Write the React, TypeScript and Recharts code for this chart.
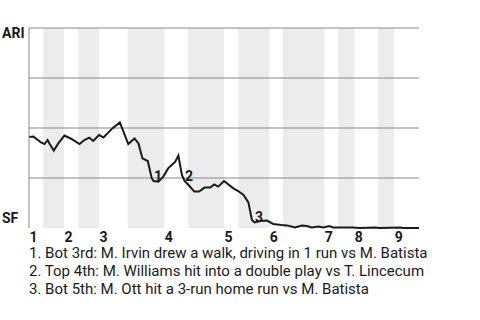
import React from 'react';
import { LineChart, Line, XAxis, YAxis, ReferenceArea, ReferenceLine } from 'recharts';

// play number (x) and ARI win probability in % (y)
const plays = [
  0, 1, 2, 2.7, 3.5, 4.2, 4.6, 5.6, 6.6, 8, 9.6, 11.4, 12.5, 13.6, 14.5, 15.8, 16.8, 18.8, 20.5,
  22.4, 23.8, 24.7, 25.6, 26.8, 27.7, 28.1, 29.2, 30.3, 31.4, 33, 33.7, 34.5, 35.1, 36, 37.3, 38.4,
  39.6, 40.9, 41.8, 42.7, 44, 46.1, 47.2, 48.4, 49.5, 50.3, 50.9, 52.2, 53.7, 55.1, 57, 58.2, 60,
  61.6, 62.7, 63.8, 65.3, 66.4, 67.7, 68.6, 73.1, 74.6, 78.1, 79.2, 83.7, 84.4, 88,
];
const ariWinPct = [
  45.5, 45.7, 44, 42.8, 42, 44, 42.3, 38.7, 42.3, 46.2, 44.5, 42, 44, 45.2, 43.5, 46.5, 45.3, 49.8, 52.8,
  42, 44.8, 42.3, 34.8, 33.5, 24.8, 23.5, 23.2, 25.7, 29.8, 33.2, 36.2, 26.5, 23.5, 21.5, 18.2, 18.2,
  20.2, 20.2, 21.8, 20.7, 23.5, 19.8, 18.5, 16.5, 12.8, 4, 2.8, 3.5, 3.7, 2, 1.5, 1.3, 0.3,
  1.2, 1, 0.3, 0.7, 0.3, 1, 0.3, 0.2, 0, 0.2, 0, 0.2, 0, 0,
];

// half-inning boundaries in plays (top 1st, bot 1st, top 2nd, ...)
const halfInningBounds = [0, 3.2, 7.9, 11.1, 15.8, 22.3, 30.5, 35.9, 44, 47.2, 54.2, 57.3, 66.6, 69.8, 73.4, 78.8, 82.4, 88];
const inningLabels = ['1', '2', '3', '4', '5', '6', '7', '8', '9'];

// key plays: index into the series, and description
const eventIdx = [25, 32, 46];
const eventNotes = [
  '1. Bot 3rd: M. Irvin drew a walk, driving in 1 run vs M. Batista',
  '2. Top 4th: M. Williams hit into a double play vs T. Lincecum',
  '3. Bot 5th: M. Ott hit a 3-run home run vs M. Batista',
];

const data = plays.map((p, i) => ({ play: p, ari: ariWinPct[i] }));
const inningStarts = halfInningBounds.filter((_, i) => i % 2 === 0).slice(0, 9);
const bottomHalves: [number, number][] = [];
for (let i = 1; i < halfInningBounds.length - 1; i += 2) {
  bottomHalves.push([halfInningBounds[i], halfInningBounds[i + 1]]);
}

const FONT = 'Roboto, "DejaVu Sans", sans-serif';

const TeamTick = (props: any) => {
  const { y, payload } = props;
  const top = payload.value === 100;
  return (
    <text x={2} y={top ? y + 10 : y - 5} fontSize={14} fontWeight={700} fill="#1a1a1a" fontFamily={FONT}>
      {top ? 'ARI' : 'SF'}
    </text>
  );
};

const InningTick = (props: any) => {
  const { x, index } = props;
  return (
    <text x={x + 0.5} y={242} fontSize={14} fontWeight={700} fill="#1a1a1a" fontFamily={FONT}>
      {inningLabels[index]}
    </text>
  );
};

const renderEventLabel = (props: any) => {
  const { x, y, index } = props;
  const k = eventIdx.indexOf(index);
  if (k < 0) return null;
  return (
    <text key={`ev-${k}`} x={x + 0.5} y={y} fontSize={14} fontWeight={700} fill="#1a1a1a" fontFamily={FONT}>
      {k + 1}
    </text>
  );
};

export default function App() {
  return (
    <div style={{ position: 'absolute', left: 0, top: 0, width: 480, height: 320, background: '#fff', fontFamily: FONT }}>
      <LineChart width={480} height={250} data={data} margin={{ top: 28, right: 61, bottom: 0, left: 0 }}>
        <XAxis
          dataKey="play"
          type="number"
          domain={[0, 88]}
          ticks={inningStarts}
          interval={0}
          tick={<InningTick />}
          axisLine={false}
          tickLine={false}
          tickSize={0}
          height={22}
          allowDecimals
        />
        <YAxis
          type="number"
          domain={[0, 100]}
          ticks={[0, 100]}
          interval={0}
          tick={<TeamTick />}
          width={29}
          axisLine={{ stroke: '#888', strokeWidth: 1 }}
          tickLine={false}
        />
        {bottomHalves.map(([a, b], i) => (
          <ReferenceArea key={i} x1={a} x2={b} y1={0} y2={100} fill="#ececec" fillOpacity={1} stroke="none" />
        ))}
        {[25, 50, 75, 100].map((v) => (
          <ReferenceLine key={v} y={v} stroke="#888" strokeWidth={1} />
        ))}
        <Line
          dataKey="ari"
          type="linear"
          stroke="#1a1a1a"
          strokeWidth={2}
          dot={false}
          isAnimationActive={false}
          label={renderEventLabel}
        />
      </LineChart>
      <div style={{ position: 'absolute', left: 29, top: 244, fontSize: 15, lineHeight: '18px', color: '#1a1a1a', whiteSpace: 'nowrap' }}>
        {eventNotes.map((t) => (
          <div key={t}>{t}</div>
        ))}
      </div>
    </div>
  );
}
